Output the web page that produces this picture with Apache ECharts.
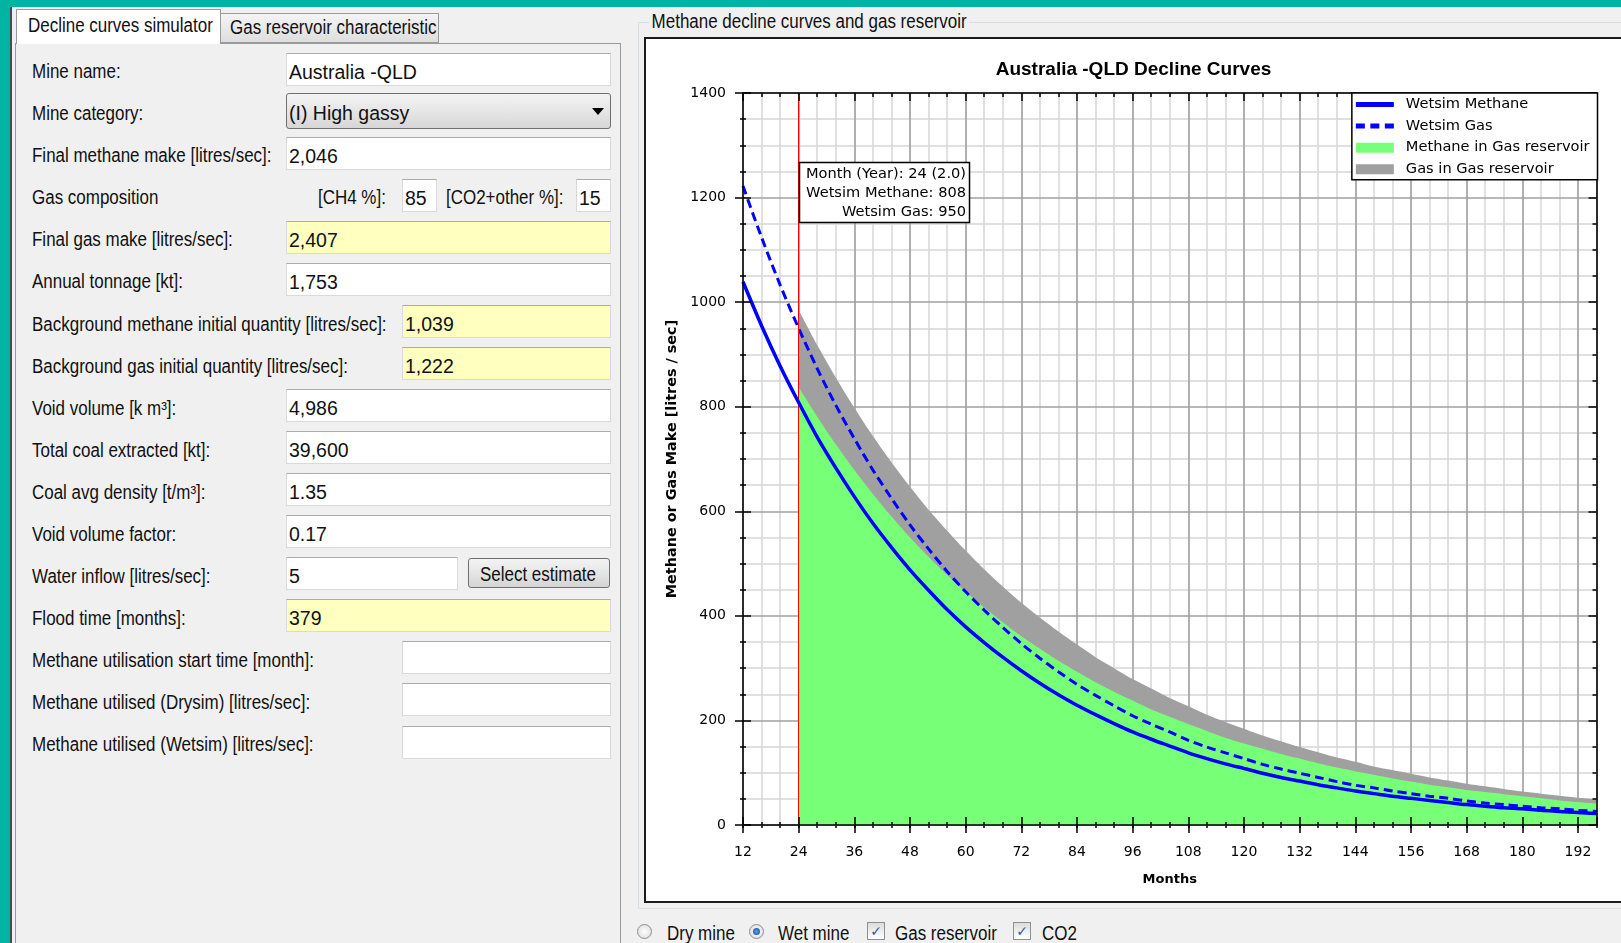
<!DOCTYPE html>
<html>
<head>
<meta charset="UTF-8">
<title>Decline curves simulator</title>
<script src="https://cdn.jsdelivr.net/npm/echarts@6.0.0/dist/echarts.min.js"></script>
<style>
    body {
        margin: 0;
        padding: 0;
        overflow: hidden;
        background: #00b3a2;
    }
    #page {
        position: absolute;
        left: 0;
        top: 0;
        width: 1621px;
        height: 943px;
        font-family: "Liberation Sans", Arial, sans-serif;
        color: #111;
    }
    #page div { position: absolute; box-sizing: border-box; }
    .win { left: 12px; top: 7px; width: 1609px; height: 936px; background: #f0f0f0; }
    .frame { left: 10px; top: 7px; width: 2px; height: 936px; background: #4a4a4a; }
    .lbl { font-size: 19.5px; line-height: 22px; white-space: nowrap; transform: scaleX(0.87); transform-origin: 0 0; }
    .box { height: 33px; background: #fff; border: 1px solid #d9d9d9; border-top-color: #ababab;
           font-size: 19.5px; line-height: 22px; padding: 7px 0 0 2px; white-space: nowrap; }
    .yellow { background: #ffffc0; }
    .panel { left: 15px; top: 43px; width: 606px; height: 920px; border: 1px solid #9a9a9a; }
    .tab-on { left: 16px; top: 9px; width: 205px; height: 35px; background: #fff; border: 1px solid #9a9a9a; border-bottom: none; }
    .tab-off { left: 220px; top: 13px; width: 219px; height: 30px; border: 1px solid #9a9a9a;
               background: linear-gradient(#f4f4f4, #dedede); }
    .combo { border: 1px solid #707070; border-radius: 3px; background: linear-gradient(#f3f3f3, #e6e6e6 50%, #d6d6d6);
             font-size: 19.5px; line-height: 22px; padding: 8px 0 0 2px; white-space: nowrap; }
    .arrow { width: 0; height: 0; border-left: 6px solid transparent; border-right: 6px solid transparent; border-top: 7px solid #000; }
    .btn { border: 1px solid #707070; border-radius: 3px; background: linear-gradient(#f3f3f3, #e6e6e6 50%, #d4d4d4); }
    .group { left: 638px; top: 22px; width: 1000px; height: 887px; border: 1px solid #d5dfe5; }
    .radio { width: 15px; height: 15px; border-radius: 50%; border: 1px solid #8e8f8f; background: radial-gradient(#ffffff, #d8d8d8); }
    .dot { width: 7px; height: 7px; border-radius: 50%; background: radial-gradient(#5aa0e6, #0d4a9a); }
    .check { width: 18px; height: 18px; border: 1px solid #8e8f8f; background: linear-gradient(#dcdcdc, #ffffff);
             font-family: "DejaVu Sans", sans-serif; font-size: 14px; line-height: 16px; text-align: center; color: #3b5998; }
    #chart { left: 644px; top: 37px; width: 977px; height: 866px; border: 2px solid #1a1a1a; border-right: none; background: #fff; }
</style>
</head>
<body>
<div id="page">
    <div class="win"></div>
    <div class="frame"></div>
    <div class="panel"></div>
    <div class="tab-off"></div>
    <div class="tab-on"></div>
    <div class="lbl" style="left:28px;top:14px;">Decline curves simulator</div>
    <div class="lbl" style="left:230px;top:16px;">Gas reservoir characteristic</div>
    <div class="group"></div>
    <div class="lbl" style="left:649px;top:10px;background:#f0f0f0;padding:0 3px;">Methane decline curves and gas reservoir</div>
    <div id="chart"></div>

    <div class="radio" style="left:637px;top:924px;"></div>
    <div class="lbl" style="left:667px;top:922px;">Dry mine</div>
    <div class="radio" style="left:749px;top:924px;"><div class="dot" style="left:3px;top:3px;"></div></div>
    <div class="lbl" style="left:778px;top:922px;">Wet mine</div>
    <div class="check" style="left:867px;top:922px;">✓</div>
    <div class="lbl" style="left:895px;top:922px;">Gas reservoir</div>
    <div class="check" style="left:1013px;top:922px;">✓</div>
    <div class="lbl" style="left:1042px;top:922px;">CO2</div>
</div>

<script>
    // values (months / litres per sec)
    const months = [12, 16, 20, 24, 28, 32, 36, 40, 44, 48, 52, 56, 60, 64, 68, 72, 76, 80, 84, 88, 92, 96,
        100, 104, 108, 112, 116, 120, 124, 128, 132, 136, 140, 144, 148, 152, 156, 160, 164, 168, 172, 176,
        180, 184, 188, 192, 196];
    const wetsimMethane = [1039, 955, 878, 808, 742, 683, 628, 577, 531, 488, 449, 412, 379, 349, 321, 295,
        271, 249, 229, 211, 194, 178, 164, 151, 138, 127, 117, 108, 99, 91, 84, 77, 71, 65, 60, 55, 51, 47,
        43, 39, 36, 33, 31, 28, 26, 24, 22];
    const wetsimGas = [1222, 1124, 1033, 950, 873, 803, 739, 679, 625, 574, 528, 485, 446, 411, 378, 347,
        319, 293, 269, 248, 228, 209, 193, 178, 162, 149, 138, 127, 116, 107, 99, 91, 83, 76, 71, 65, 60, 55,
        51, 46, 42, 39, 36, 33, 31, 28, 26];
    const reservoirMonths = [24, 28, 32, 36, 40, 44, 48, 52, 56, 60, 64, 68, 72, 76, 80, 84, 88, 92, 96,
        100, 104, 108, 112, 116, 120, 124, 128, 132, 136, 140, 144, 148, 152, 156, 160, 164, 168, 172, 176,
        180, 184, 188, 192, 196];
    const methaneReservoir = [837, 781, 728, 679, 633, 590, 550, 513, 478, 446, 416, 388, 361, 337, 314,
        293, 273, 255, 238, 221, 207, 193, 180, 167, 156, 146, 136, 127, 118, 110, 103, 96, 89, 83, 77, 72,
        67, 63, 59, 55, 51, 47, 44, 41];
    const gasReservoir = [985, 918, 856, 798, 744, 694, 647, 603, 563, 525, 489, 456, 425, 397, 370, 345,
        321, 300, 279, 261, 243, 227, 211, 197, 184, 171, 160, 149, 139, 129, 121, 112, 105, 98, 91, 85, 79,
        74, 69, 64, 60, 56, 52, 49];
    const cursorMonth = 24;
    const seriesNames = ['Wetsim Methane', 'Wetsim Gas', 'Methane in Gas reservoir', 'Gas in Gas reservoir'];

    // form on the left
    const formRows = [
        {label: 'Mine name:', value: 'Australia -QLD', x: 286},
        {label: 'Mine category:', combo: '(I) High gassy'},
        {label: 'Final methane make [litres/sec]:', value: '2,046', x: 286},
        {label: 'Gas composition', comp: ['85', '15']},
        {label: 'Final gas make [litres/sec]:', value: '2,407', x: 286, yellow: true},
        {label: 'Annual tonnage [kt]:', value: '1,753', x: 286},
        {label: 'Background methane initial quantity [litres/sec]:', value: '1,039', x: 402, yellow: true},
        {label: 'Background gas initial quantity [litres/sec]:', value: '1,222', x: 402, yellow: true},
        {label: 'Void volume [k m³]:', value: '4,986', x: 286},
        {label: 'Total coal extracted [kt]:', value: '39,600', x: 286},
        {label: 'Coal avg density [t/m³]:', value: '1.35', x: 286},
        {label: 'Void volume factor:', value: '0.17', x: 286},
        {label: 'Water inflow [litres/sec]:', value: '5', x: 286, w: 172, button: 'Select estimate'},
        {label: 'Flood time [months]:', value: '379', x: 286, yellow: true},
        {label: 'Methane utilisation start time [month]:', value: '', x: 402},
        {label: 'Methane utilised (Drysim) [litres/sec]:', value: '', x: 402},
        {label: 'Methane utilised (Wetsim) [litres/sec]:', value: '', x: 402}
    ];
    const page = document.getElementById('page');
    function add(cls, css, text) {
        const d = document.createElement('div');
        d.className = cls;
        Object.assign(d.style, css);
        if (text !== undefined) d.textContent = text;
        page.appendChild(d);
        return d;
    }
    formRows.forEach((r, i) => {
        const c = 69.2 + 42.05 * i;
        add('lbl', {left: '32px', top: (c - 9) + 'px'}, r.label);
        if (r.combo) {
            add('combo', {left: '286px', top: (c - 18) + 'px', width: '325px', height: '36px'}, r.combo);
            add('arrow', {left: '592px', top: (c - 3) + 'px'});
        } else if (r.comp) {
            add('lbl', {left: '318px', top: (c - 9) + 'px'}, '[CH4 %]:');
            add('box', {left: '402px', top: (c - 16.5) + 'px', width: '35px'}, r.comp[0]);
            add('lbl', {left: '446px', top: (c - 9) + 'px'}, '[CO2+other %]:');
            add('box', {left: '576px', top: (c - 16.5) + 'px', width: '35px'}, r.comp[1]);
        } else {
            const w = r.w || (611 - r.x);
            add('box' + (r.yellow ? ' yellow' : ''), {left: r.x + 'px', top: (c - 16.5) + 'px', width: w + 'px'}, r.value);
        }
        if (r.button) {
            add('btn', {left: '468px', top: (c - 15.5) + 'px', width: '142px', height: '30px'});
            add('lbl', {left: '480px', top: (c - 11) + 'px'}, r.button);
        }
    });

    // chart
    const pairs = (xs, ys) => xs.map((x, i) => [x, ys[i]]);
    const black = {color: '#000', width: 1.5};
    const tickFont = {fontFamily: 'DejaVu Sans', fontSize: 14, color: '#000'};

    function xAx(o) {
        return Object.assign({
            type: 'value', min: 12, max: 196, interval: 12, position: 'bottom',
            axisLine: {show: false, onZero: false},
            axisTick: {show: false},
            axisLabel: {show: false},
            splitLine: {show: false}
        }, o);
    }
    function yAx(o) {
        return Object.assign({
            type: 'value', min: 0, max: 1400, interval: 200, position: 'left',
            axisLine: {show: false, onZero: false},
            axisTick: {show: false},
            axisLabel: {show: false},
            splitLine: {show: false}
        }, o);
    }

    const ec = echarts.init(document.getElementById('chart'));
    const option = {
        animation: false,
        title: {
            text: 'Australia -QLD Decline Curves',
            left: 'center',
            top: 16,
            textStyle: {fontFamily: 'Liberation Sans', fontSize: 19, fontWeight: 'bold', color: '#000'}
        },
        grid: {left: 97, right: 24.5, top: 54, bottom: 76, outerBoundsMode: 'none'},
        legend: {
            orient: 'vertical',
            right: 23.5,
            top: 54,
            z: 20,
            selectedMode: false,
            backgroundColor: '#fff',
            borderColor: '#000',
            borderWidth: 1.5,
            padding: [4, 8, 3, 4],
            itemWidth: 38,
            itemHeight: 10,
            itemGap: 6.6,
            itemStyle: {borderWidth: 0},
            textStyle: {fontFamily: 'DejaVu Sans', fontSize: 14.6, lineHeight: 14, color: '#000', padding: [0, 0, 0, 7]},
            data: [
                {name: seriesNames[0], icon: 'path://M0,0M38,10M0,2.5h38v5h-38z', itemStyle: {color: '#0000ff'}},
                {name: seriesNames[1], icon: 'path://M0,0M38,10M0,2.5h9v5h-9zM14.5,2.5h9v5h-9zM29,2.5h9v5h-9z', itemStyle: {color: '#0000ff'}},
                {name: seriesNames[2], icon: 'path://M0,0h38v10h-38z', itemStyle: {color: '#78ff78'}},
                {name: seriesNames[3], icon: 'path://M0,0h38v10h-38z', itemStyle: {color: '#a0a0a0'}}
            ]
        },
        xAxis: [
            xAx({
                z: 1,
                axisTick: {show: true, length: 8, lineStyle: black},
                splitLine: {show: true, lineStyle: {color: '#a0a0a0', width: 1.5}},
                axisLabel: Object.assign({show: true, margin: 20, showMaxLabel: false}, tickFont),
                name: 'Months', nameLocation: 'middle', nameGap: 48,
                nameTextStyle: {fontFamily: 'DejaVu Sans', fontSize: 13, fontWeight: 'bold', color: '#000'}
            }),
            xAx({
                z: 0, interval: 4,
                axisTick: {show: true, length: 3, lineStyle: black},
                splitLine: {show: true, lineStyle: {color: '#d6d6d6', width: 1.5}}
            }),
            xAx({
                z: 10,
                axisLine: {show: true, onZero: false, lineStyle: black},
                axisTick: {show: true, inside: true, length: 8, lineStyle: black}
            }),
            xAx({z: 10, interval: 4, axisTick: {show: true, inside: true, length: 3, lineStyle: black}}),
            xAx({
                z: 10, position: 'top',
                axisLine: {show: true, onZero: false, lineStyle: black},
                axisTick: {show: true, inside: true, length: 8, lineStyle: black}
            }),
            xAx({z: 10, position: 'top', interval: 4, axisTick: {show: true, inside: true, length: 4, lineStyle: black}})
        ],
        yAxis: [
            yAx({
                z: 1,
                axisTick: {show: true, length: 8, lineStyle: black},
                minorTick: {show: true, splitNumber: 4, length: 3, lineStyle: black},
                splitLine: {show: true, lineStyle: {color: '#a0a0a0', width: 1.5}},
                minorSplitLine: {show: true, lineStyle: {color: '#d6d6d6', width: 1.5}},
                axisLabel: Object.assign({show: true, margin: 17, formatter: v => String(v)}, tickFont),
                name: 'Methane or Gas Make [litres / sec]', nameLocation: 'middle', nameGap: 58,
                nameTextStyle: {fontFamily: 'DejaVu Sans', fontSize: 14.4, fontWeight: 'bold', color: '#000'}
            }),
            yAx({
                z: 10,
                axisLine: {show: true, onZero: false, lineStyle: black},
                axisTick: {show: true, inside: true, length: 8, lineStyle: black},
                minorTick: {show: true, splitNumber: 4, length: 3, lineStyle: black}
            }),
            yAx({
                z: 10, position: 'right',
                axisLine: {show: true, onZero: false, lineStyle: black},
                axisTick: {show: true, inside: true, length: 8, lineStyle: black},
                minorTick: {show: true, splitNumber: 4, length: 4, lineStyle: black}
            })
        ],
        series: [
            {
                name: seriesNames[3], type: 'line', data: pairs(reservoirMonths, gasReservoir),
                symbol: 'none', smooth: 0.3, color: '#a0a0a0',
                lineStyle: {width: 0}, areaStyle: {color: '#a0a0a0', opacity: 1}, z: 2
            },
            {
                name: seriesNames[2], type: 'line', data: pairs(reservoirMonths, methaneReservoir),
                symbol: 'none', smooth: 0.3, color: '#78ff78',
                lineStyle: {width: 0}, areaStyle: {color: '#78ff78', opacity: 1}, z: 3
            },
            {
                name: seriesNames[1], type: 'line', data: pairs(months, wetsimGas),
                symbol: 'none', smooth: 0.3, color: '#0000ff',
                lineStyle: {color: '#0000ff', width: 3, type: [9, 5]}, z: 4
            },
            {
                name: seriesNames[0], type: 'line', data: pairs(months, wetsimMethane),
                symbol: 'none', smooth: 0.3, color: '#0000ff',
                lineStyle: {color: '#0000ff', width: 3.5}, z: 5,
                markLine: {
                    silent: true,
                    symbol: ['none', 'none'],
                    label: {show: false},
                    lineStyle: {color: '#ff0000', width: 1, type: 'solid'},
                    data: [{xAxis: cursorMonth}]
                }
            }
        ]
    };
    ec.setOption(option);

    // cursor read-out box
    const ci = months.indexOf(cursorMonth);
    const tipText = [
        'Month (Year): ' + cursorMonth + ' (' + (cursorMonth / 12).toFixed(1) + ')',
        'Wetsim Methane: ' + wetsimMethane[ci],
        'Wetsim Gas: ' + wetsimGas[ci]
    ].join('\n');
    const p = ec.convertToPixel({xAxisIndex: 0, yAxisIndex: 0}, [cursorMonth, 1268]);
    ec.setOption({
        graphic: [
            {
                type: 'rect', z: 100,
                shape: {x: Math.round(p[0]) + 0.5, y: Math.round(p[1]) + 0.5, width: 170, height: 60},
                style: {fill: '#fff', stroke: '#000', lineWidth: 1.5}
            },
            {
                type: 'text', z: 101, x: Math.round(p[0]) + 167, y: Math.round(p[1]) + 3,
                style: {
                    text: tipText, align: 'right', verticalAlign: 'top',
                    font: '14.6px "DejaVu Sans"', lineHeight: 19, fill: '#000'
                }
            }
        ]
    });
</script>
</body>
</html>
